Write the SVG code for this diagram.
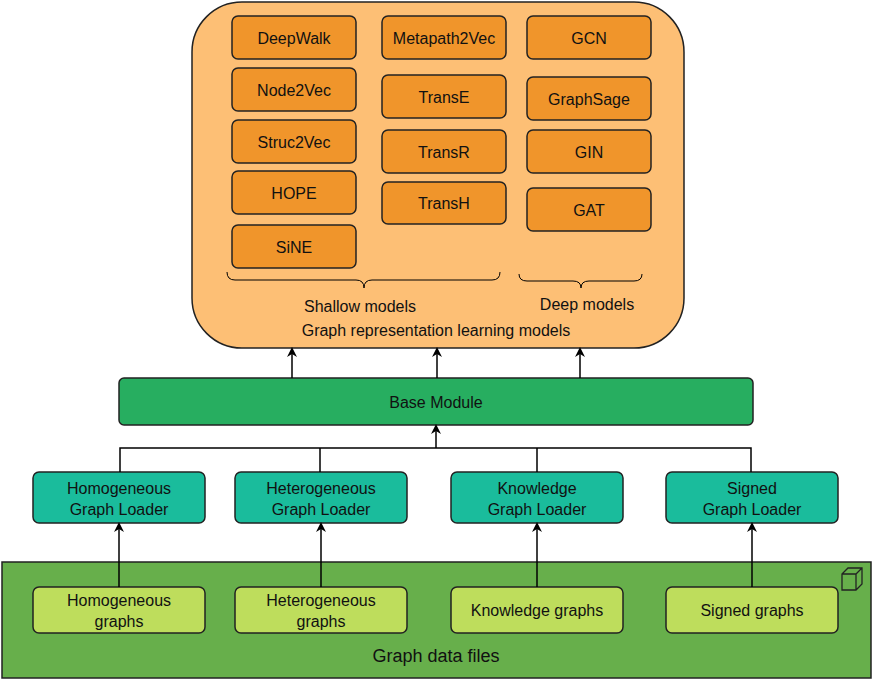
<svg xmlns="http://www.w3.org/2000/svg" width="875" height="683" viewBox="0 0 875 683">
<style>
text{font-family:"Liberation Sans",Arial,sans-serif;font-size:16px;fill:#111;text-anchor:middle;dominant-baseline:central}
.o{fill:#F0952B;stroke:#222;stroke-width:1.5}
.l{fill:#1ABC9C;stroke:#222;stroke-width:1.5}
.d{fill:#BEDD5C;stroke:#222;stroke-width:1.5}
.c{stroke:#000;stroke-width:1.5;fill:none}
</style>
<defs><marker id="a" markerWidth="10" markerHeight="10" refX="8" refY="5" orient="auto" markerUnits="userSpaceOnUse"><path d="M0,0 L10,5 L0,10 L3,5 Z" fill="#000"/></marker></defs>
<rect width="875" height="683" fill="#fff"/>
<g id="data"><rect x="2" y="562" width="869" height="116" fill="#67AF4B" stroke="#222" stroke-width="1.5"/>
<text x="436" y="656" style="font-size:18px">Graph data files</text>
<path d="M842,574 l6,-6 h14 v16 l-6,6 h-14 z M842,574 h14 v16 M856,574 l6,-6" fill="none" stroke="#222" stroke-width="1.3"/></g>
<g id="models"><rect x="192" y="2" width="492" height="346" rx="50" fill="#FDBF75" stroke="#222" stroke-width="1.5"/>
<path class="c" style="stroke-width:1" d="M227,272 q0,8 8,8 h121 q8,0 8,8 q0,-8 8,-8 h120 q8,0 8,-8"/>
<path class="c" style="stroke-width:1" d="M519,274 q0,7 8,7 h46 q8,0 8,7 q0,-7 8,-7 h45 q8,0 8,-7"/>
<text x="360" y="306">Shallow models</text><text x="587" y="304">Deep models</text>
<text x="436" y="330">Graph representation learning models</text></g>
<g id="deepwalk"><rect class="o" x="232" y="16" width="124" height="43" rx="6"/><text x="294" y="38">DeepWalk</text></g>
<g id="node2vec"><rect class="o" x="232" y="68" width="124" height="43" rx="6"/><text x="294" y="90">Node2Vec</text></g>
<g id="struc2vec"><rect class="o" x="232" y="120" width="124" height="43" rx="6"/><text x="294" y="142">Struc2Vec</text></g>
<g id="hope"><rect class="o" x="232" y="171" width="124" height="43" rx="6"/><text x="294" y="193">HOPE</text></g>
<g id="sine"><rect class="o" x="232" y="225" width="124" height="43" rx="6"/><text x="294" y="247">SiNE</text></g>
<g id="metapath2vec"><rect class="o" x="382" y="16" width="124" height="43" rx="6"/><text x="444" y="38">Metapath2Vec</text></g>
<g id="transe"><rect class="o" x="382" y="75" width="124" height="43" rx="6"/><text x="444" y="97">TransE</text></g>
<g id="transr"><rect class="o" x="382" y="130" width="124" height="43" rx="6"/><text x="444" y="152">TransR</text></g>
<g id="transh"><rect class="o" x="382" y="182" width="124" height="42" rx="6"/><text x="444" y="203">TransH</text></g>
<g id="gcn"><rect class="o" x="527" y="16" width="124" height="43" rx="6"/><text x="589" y="38">GCN</text></g>
<g id="graphsage"><rect class="o" x="527" y="77" width="124" height="43" rx="6"/><text x="589" y="99">GraphSage</text></g>
<g id="gin"><rect class="o" x="527" y="130" width="124" height="43" rx="6"/><text x="589" y="152">GIN</text></g>
<g id="gat"><rect class="o" x="527" y="188" width="124" height="43" rx="6"/><text x="589" y="210">GAT</text></g>
<g id="base"><rect x="119" y="378" width="634" height="47" rx="5" fill="#27AE60" stroke="#222" stroke-width="1.5"/><text x="436" y="402">Base Module</text></g>
<g id="l1"><rect class="l" x="33" y="472" width="172" height="51" rx="6"/><text x="119" y="488">Homogeneous</text><text x="119" y="509">Graph Loader</text></g>
<g id="l2"><rect class="l" x="235" y="472" width="172" height="51" rx="6"/><text x="321" y="488">Heterogeneous</text><text x="321" y="509">Graph Loader</text></g>
<g id="l3"><rect class="l" x="451" y="472" width="172" height="51" rx="6"/><text x="537" y="488">Knowledge</text><text x="537" y="509">Graph Loader</text></g>
<g id="l4"><rect class="l" x="666" y="472" width="172" height="51" rx="6"/><text x="752" y="488">Signed</text><text x="752" y="509">Graph Loader</text></g>
<g id="d1"><rect class="d" x="33" y="587" width="172" height="46" rx="6"/><text x="119" y="600">Homogeneous</text><text x="119" y="621">graphs</text></g>
<g id="d2"><rect class="d" x="235" y="587" width="172" height="46" rx="6"/><text x="321" y="600">Heterogeneous</text><text x="321" y="621">graphs</text></g>
<g id="d3"><rect class="d" x="451" y="587" width="172" height="46" rx="6"/><text x="537" y="610">Knowledge graphs</text></g>
<g id="d4"><rect class="d" x="666" y="587" width="172" height="46" rx="6"/><text x="752" y="610">Signed graphs</text></g>
<g id="connectors">
<path class="c" d="M292,378 V349" marker-end="url(#a)"/>
<path class="c" d="M437,378 V349" marker-end="url(#a)"/>
<path class="c" d="M580,378 V349" marker-end="url(#a)"/>
<path class="c" d="M120,472 V448 H751 V472 M320,448 V472 M537,448 V472"/>
<path class="c" d="M436,448 V426" marker-end="url(#a)"/>
<path class="c" d="M119,587 V524" marker-end="url(#a)"/>
<path class="c" d="M321,587 V524" marker-end="url(#a)"/>
<path class="c" d="M537,587 V524" marker-end="url(#a)"/>
<path class="c" d="M752,587 V524" marker-end="url(#a)"/>
</g>
</svg>
